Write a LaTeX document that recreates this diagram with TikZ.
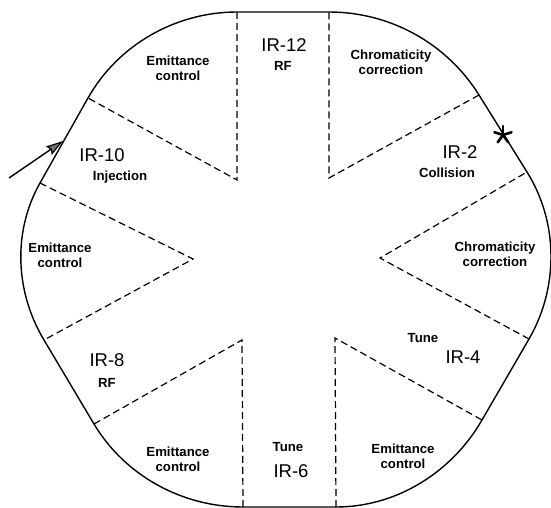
\documentclass[tikz,border=0pt]{standalone}
\usepackage{fontspec}
\setmainfont{Liberation Sans}
\usetikzlibrary{arrows.meta}
\begin{document}
\begin{tikzpicture}[x=1pt,y=1pt,
  ring/.style={line width=1.4pt, line join=round},
  sector/.style={line width=1.2pt, dash pattern=on 7pt off 4pt},
  irlabel/.style={font=\fontsize{18.5}{20}\selectfont, inner sep=0pt},
  sublabel/.style={font=\bfseries\fontsize{13.2}{15}\selectfont, align=center, inner sep=0pt},
  injarrow/.style={line width=1.4pt, -{Stealth[length=17pt,width=10pt,inset=2pt,fill=black!55,line width=1.2pt]}},
  starline/.style={line width=2.6pt, line cap=round}]
\useasboundingbox (0,0) rectangle (551,-508);
% ring points
\coordinate (A1) at (237,-12);
\coordinate (A2) at (329,-12);
\coordinate (B1) at (479,-95);
\coordinate (B2) at (527,-172);
\coordinate (C1) at (529,-339);
\coordinate (C2) at (482,-420);
\coordinate (D1) at (336,-507);
\coordinate (D2) at (243,-507);
\coordinate (E1) at (94,-424);
\coordinate (E2) at (44,-340);
\coordinate (F1) at (40,-183);
\coordinate (F2) at (88,-98);
% inner apexes
\coordinate (Ptop1) at (237,-180);
\coordinate (Ptop2) at (329,-178);
\coordinate (Pright) at (380,-258);
\coordinate (Pbot2) at (335,-338);
\coordinate (Pbot1) at (242,-340);
\coordinate (Pleft) at (193,-259);
% ring
\draw[ring] (A1) -- (A2) to[out=0,in=122,looseness=0.91] (B1) -- (B2)
  to[out=-58,in=60,looseness=0.91] (C1) -- (C2)
  to[out=-120,in=0,looseness=0.91] (D1) -- (D2)
  to[out=180,in=-59,looseness=0.91] (E1) -- (E2)
  to[out=121,in=-119.5,looseness=0.91] (F1) -- (F2)
  to[out=60.5,in=180,looseness=0.91] (A1);
% sector boundaries
\draw[sector] (A1) -- (Ptop1) -- (F2);
\draw[sector] (F1) -- (Pleft) -- (E2);
\draw[sector] (E1) -- (Pbot1) -- (D2);
\draw[sector] (D1) -- (Pbot2) -- (C2);
\draw[sector] (C1) -- (Pright) -- (B2);
\draw[sector] (B1) -- (Ptop2) -- (A2);
% labels
\node[irlabel] (ir12) at (284,-45) {IR-12};
\node[sublabel] (rf12) at (283,-66) {RF};
\node[irlabel] (ir10) at (102,-155) {IR-10};
\node[sublabel] (inj) at (120,-177) {Injection};
\node[irlabel] (ir2) at (460,-152) {IR-2};
\node[sublabel] (coll) at (447,-173) {Collision};
\node[irlabel] (ir8) at (107,-360) {IR-8};
\node[sublabel] (rf8) at (107,-383) {RF};
\node[sublabel] (tune4) at (423,-338) {Tune};
\node[irlabel] (ir4) at (463,-357) {IR-4};
\node[sublabel] (tune6) at (288,-447) {Tune};
\node[irlabel] (ir6) at (291,-471) {IR-6};
\node[sublabel] (emtl) at (178,-68.5) {Emittance\\control};
\node[sublabel] (chtr) at (391,-62.5) {Chromaticity\\correction};
\node[sublabel] (eml) at (60,-255.5) {Emittance\\control};
\node[sublabel] (chr) at (495,-254) {Chromaticity\\correction};
\node[sublabel] (embl) at (178,-459.5) {Emittance\\control};
\node[sublabel] (embr) at (403,-456.5) {Emittance\\control};
% injection arrow
\coordinate (inj0) at (9,-178);
\coordinate (injtip) at (63,-141);
\draw[injarrow] (inj0) -- (injtip);
% collision star
\coordinate (star) at (503,-135);
\foreach \a in {90,18,162,234,306}
  \draw[starline] (star) -- ++(\a:9);
\end{tikzpicture}
\end{document}
